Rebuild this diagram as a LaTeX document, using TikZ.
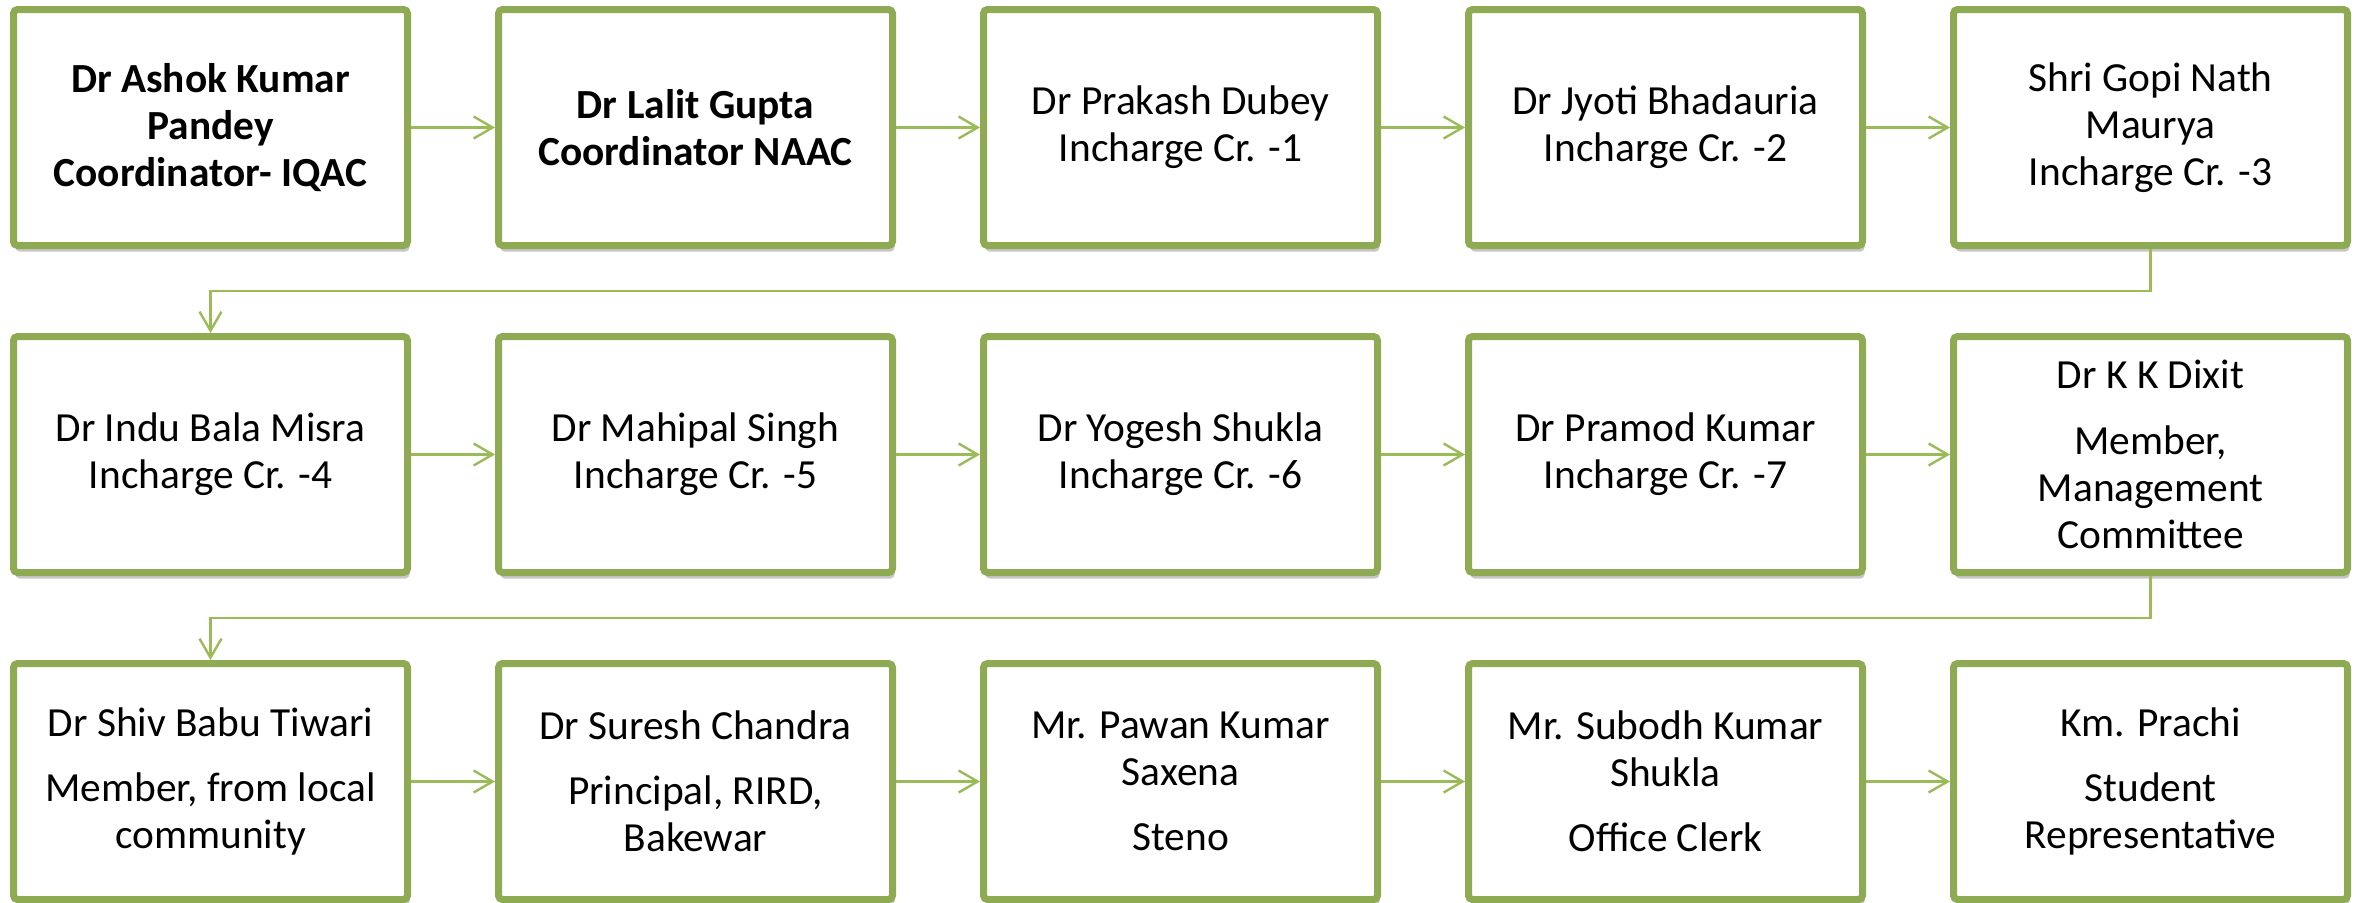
\documentclass[tikz,border=0pt]{standalone}
\usepackage{fontspec}
\setmainfont{Carlito}
\usepackage{tikz}
\usetikzlibrary{arrows.meta, calc, shadows}
\definecolor{boxgreen}{HTML}{8EAB54}
\definecolor{linkgreen}{HTML}{9BBB59}

\begin{document}
\begin{tikzpicture}[
	x=0.5pt, y=-0.5pt,
	member/.style={draw=boxgreen, line width=3.5pt, rounded corners=2pt, fill=white,
		minimum width=197pt, minimum height=118pt, inner sep=0pt, align=center,
		font=\fontsize{20.7}{23.6}\selectfont,
		drop shadow={shadow xshift=1pt, shadow yshift=-3pt, opacity=0.22, fill=black}},
	link/.style={draw=linkgreen, line width=1.2pt, -{Straight Barb[length=9.5pt, width=11pt]}}
	]
		\useasboundingbox (0,0) rectangle (2356,902);

		\node[member]	(ashok)		at	(210.5,127.5)	{\textbf{Dr Ashok Kumar}\\\textbf{Pandey}\\\textbf{Coordinator- IQAC}};
		\node[member]	(lalit)		at	(695.5,127.5)	{\textbf{Dr Lalit Gupta}\\\textbf{Coordinator NAAC}};
		\node[member]	(prakash)	at	(1180.5,127.5)	{Dr Prakash Dubey\\Incharge Cr. -1};
		\node[member]	(jyoti)		at	(1665.5,127.5)	{Dr Jyoti Bhadauria\\Incharge Cr. -2};
		\node[member]	(gopi)		at	(2150.5,127.5)	{Shri Gopi Nath\\Maurya\\Incharge Cr. -3};
		\draw[link] (ashok) 	-- (lalit);
		\draw[link] (lalit) 	-- (prakash);
		\draw[link] (prakash) 	-- (jyoti);
		\draw[link] (jyoti) 	-- (gopi);

		\node[member]	(indu)		at	(210.5,454.5)	{Dr Indu Bala Misra\\Incharge Cr. -4};
		\node[member]	(mahipal)	at	(695.5,454.5)	{Dr Mahipal Singh\\Incharge Cr. -5};
		\node[member]	(yogesh)	at	(1180.5,454.5)	{Dr Yogesh Shukla\\Incharge Cr. -6};
		\node[member]	(pramod)	at	(1665.5,454.5)	{Dr Pramod Kumar\\Incharge Cr. -7};
		\node[member]	(dixit)		at	(2150.5,454.5)	{Dr K K Dixit\\[9pt]Member,\\Management\\Committee};
		\draw[link] (indu) 		-- (mahipal);
		\draw[link] (mahipal) 	-- (yogesh);
		\draw[link] (yogesh) 	-- (pramod);
		\draw[link] (pramod) 	-- (dixit);

		\node[member]	(shiv)		at	(210.5,781.5)	{Dr Shiv Babu Tiwari\\[9pt]Member, from local\\community};
		\node[member]	(suresh)	at	(695.5,781.5)	{Dr Suresh Chandra\\[9pt]Principal, RIRD,\\Bakewar};
		\node[member]	(pawan)		at	(1180.5,781.5)	{Mr. Pawan Kumar\\Saxena\\[9pt]Steno};
		\node[member]	(subodh)	at	(1665.5,781.5)	{Mr. Subodh Kumar\\Shukla\\[9pt]Office Clerk};
		\node[member]	(prachi)	at	(2150.5,781.5)	{Km. Prachi\\[9pt]Student\\Representative};
		\draw[link] (shiv) 		-- (suresh);
		\draw[link] (suresh) 	-- (pawan);
		\draw[link] (pawan) 	-- (subodh);
		\draw[link] (subodh) 	-- (prachi);

		\draw[link] (gopi.south) |- ($(gopi.south)!.5!(dixit.north)$) -| (indu.north);
		\draw[link] (dixit.south) |- ($(dixit.south)!.5!(prachi.north)$) -| (shiv.north);
	\end{tikzpicture}
\end{document}
